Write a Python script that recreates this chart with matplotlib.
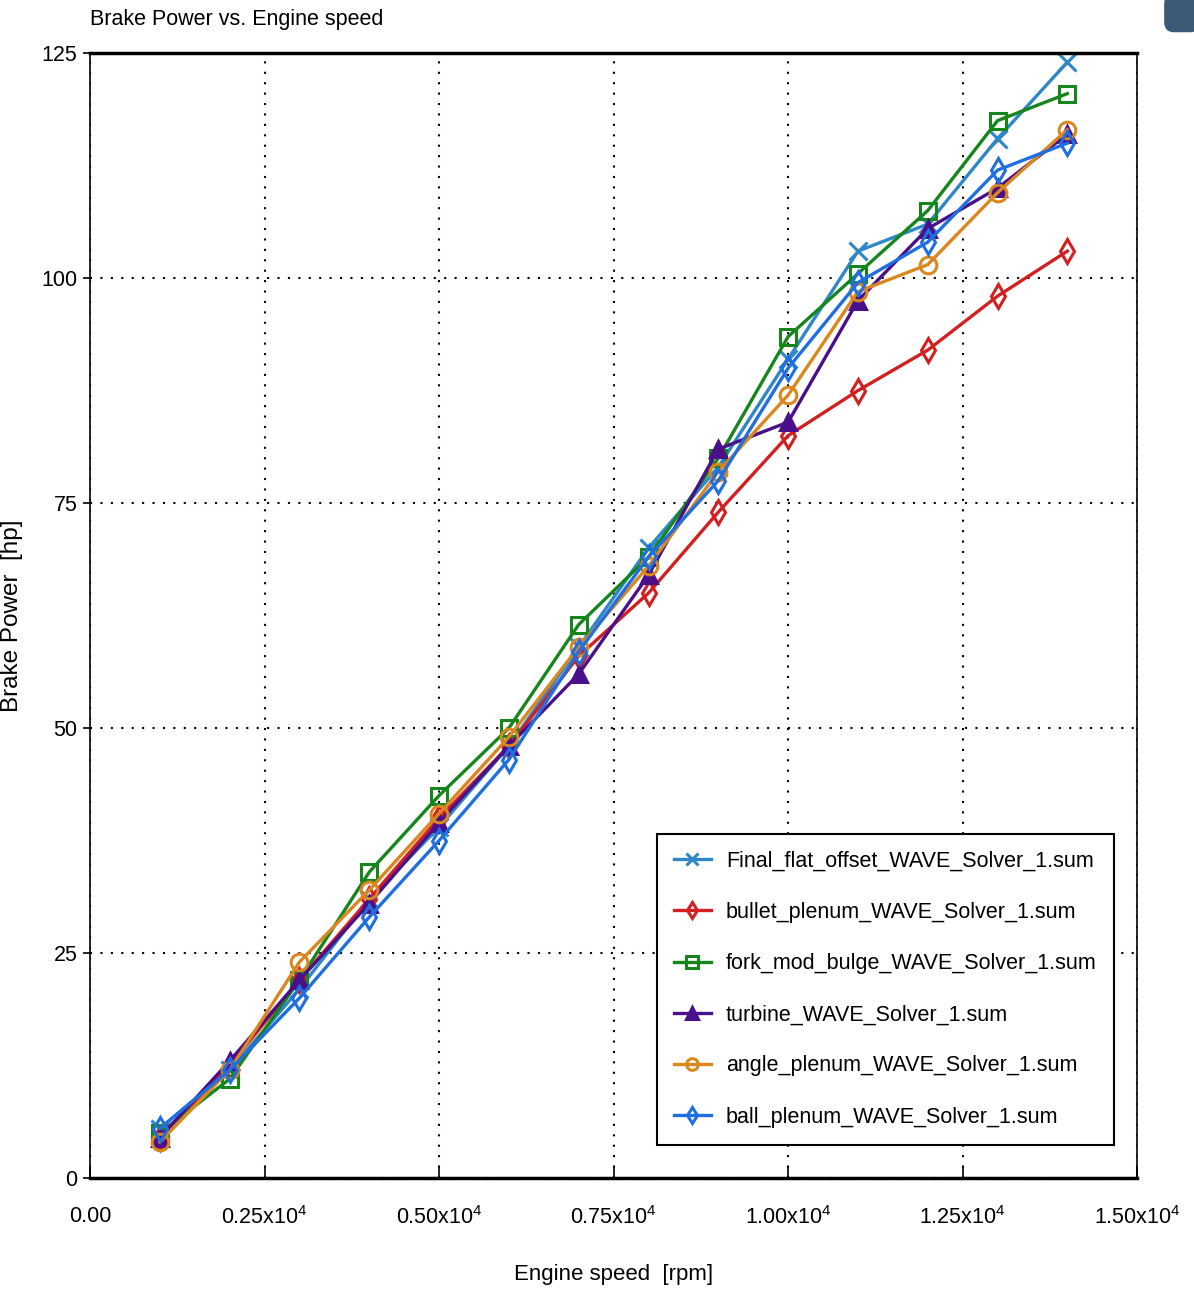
import matplotlib.pyplot as plt
import numpy as np
from matplotlib.ticker import FixedLocator, FixedFormatter
from matplotlib.patches import FancyBboxPatch

rpm = [1000, 2000, 3000, 4000, 5000, 6000, 7000, 8000, 9000, 10000, 11000, 12000, 13000, 14000]

final_flat = [5.5, 12, 21, 31, 39, 48, 59, 70, 79, 91, 103, 106, 115.5, 124]
bullet = [4.5, 12.5, 22, 31, 40, 48, 58, 65, 74, 82.5, 87.5, 92, 98, 103]
fork = [5, 11, 22, 34, 42.5, 50, 61.5, 69, 80, 93.5, 100.5, 107.5, 117.5, 120.5]
turbine = [4.5, 13, 22, 30.5, 39.5, 48, 56, 67, 81, 84, 97.5, 105.5, 110, 116]
angle = [4, 12, 24, 32, 40.5, 49, 59, 68, 78.5, 87, 98.5, 101.5, 109.5, 116.5]
ball = [5.5, 12, 20, 29, 37.5, 46.5, 58.5, 69, 77.5, 90, 99.5, 104, 112, 115]

labels = ["Final_flat_offset_WAVE_Solver_1.sum", "bullet_plenum_WAVE_Solver_1.sum",
          "fork_mod_bulge_WAVE_Solver_1.sum", "turbine_WAVE_Solver_1.sum",
          "angle_plenum_WAVE_Solver_1.sum", "ball_plenum_WAVE_Solver_1.sum"]
series = [final_flat, bullet, fork, turbine, angle, ball]
colors = ["#2f86c8", "#d31f1f", "#16861c", "#4a0f8a", "#d9871e", "#1f6fe0"]
markers = ["x", "d", "s", "^", "o", "d"]
filled = [True, False, False, True, False, False]

xticks = [0, 2500, 5000, 7500, 10000, 12500, 15000]
xticklabels = ["0.00", r"0.25x10$^4$", r"0.50x10$^4$", r"0.75x10$^4$",
               r"1.00x10$^4$", r"1.25x10$^4$", r"1.50x10$^4$"]
yticks = [0, 25, 50, 75, 100, 125]

font = ["Liberation Sans", "DejaVu Sans"]
plt.rcParams["font.family"] = font
plt.rcParams["mathtext.fontset"] = "custom"
plt.rcParams["mathtext.rm"] = "Liberation Sans"

fig = plt.figure(figsize=(11.94, 12.9), dpi=100)
ax = fig.add_axes([0.0754, 0.0868, 0.877, 0.872])

for y, lab, c, m, f in zip(series, labels, colors, markers, filled):
    ax.plot(rpm, y, color=c, lw=2.4, marker=m, ms=12 if m != "x" else 13,
            mew=2.2, mfc=c if f else "none", mec=c, label=lab)

ax.set_xlim(0, 15000)
ax.set_ylim(0, 125)
ax.xaxis.set_major_locator(FixedLocator(xticks))
ax.xaxis.set_major_formatter(FixedFormatter(xticklabels))
ax.set_yticks(yticks)
ax.grid(True, color="black", ls=(0, (1, 4)), lw=1.5)
ax.tick_params(axis="x", direction="in", length=8, width=1.2, pad=20, labelsize=15.5)
ax.tick_params(axis="y", direction="out", length=5, width=1.2, pad=4, labelsize=15.5)

ax.spines["top"].set_linewidth(2.5)
ax.spines["bottom"].set_linewidth(2.5)
ax.spines["left"].set_linewidth(1.2)
ax.spines["right"].set_linewidth(1.2)

ax.set_xlabel("Engine speed  [rpm]", fontsize=16)
ax.xaxis.set_label_coords(0.5, -0.076)
ax.set_ylabel("Brake Power  [hp]", fontsize=17.5)
ax.yaxis.set_label_coords(-0.064, 0.5)
fig.text(0.0754, 0.977, "Brake Power vs. Engine speed", fontsize=15.5,
         ha="left", va="bottom")

leg = ax.legend(loc="lower right", bbox_to_anchor=(0.988, 0.02), prop={"size": 15.5},
                frameon=True, fancybox=False, edgecolor="black", framealpha=1,
                handlelength=1.7, labelspacing=1.4, borderpad=0.8, handletextpad=0.7, markerscale=0.7)
leg.get_frame().set_linewidth(1.5)

fig.patches.append(FancyBboxPatch((0.975, 0.975), 0.03, 0.03, boxstyle="round,pad=0,rounding_size=0.008",
                                  transform=fig.transFigure, facecolor="#3c5a78", edgecolor="none"))

fig.savefig("out.png", dpi=100)
